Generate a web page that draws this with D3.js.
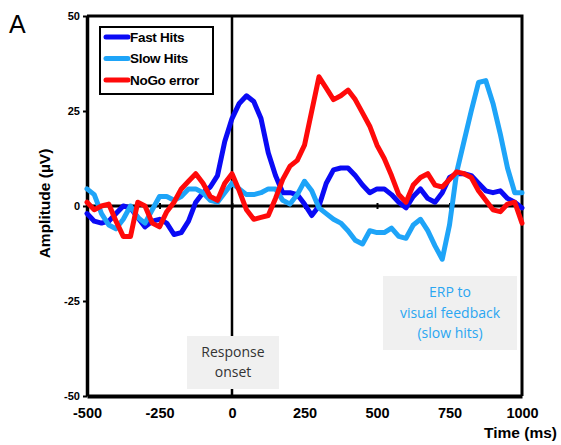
<!DOCTYPE html>
<html lang="en">
<head>
<meta charset="UTF-8">
<title>ERP amplitude</title>
<script src="https://d3js.org/d3.v7.min.js"></script>
<style>
    body { margin: 0; background: #fff; }
    svg { display: block; font-family: Arial, "Liberation Sans", sans-serif; }
    .axis text { font-weight: bold; fill: #000; }
    .legend text { font-weight: bold; font-size: 13.5px; letter-spacing: -0.3px; }
    .note { font-family: "Open Sans", "Noto Sans", sans-serif; font-size: 14px; }
</style>
</head>
<body>
<div id="chart"></div>
<script>
    // time grid (ms) shared by the three waveforms
    const times = d3.range(-500, 1001, 25);

    const fastHits = [
        -2, -4, -4.5, -4, -2, 0, -0.5, -3, -5.5, -4, -3.5, -4.5, -7.5, -7, -4, 1, 3.5, 5, 8, 17,
        23, 27, 29, 27.5, 23, 14, 8, 3.5, 3.5, 3, 0.5, -2.5, 0, 6, 9.5, 10, 10, 8, 5.5, 3.5,
        4.5, 4.5, 3, 1, -0.5, 2.5, 4.5, 2, 1, 3.5, 7.5, 8.5, 8.5, 8, 6, 4, 3.5, 4, 2, 1, -0.5
    ];
    const slowHits = [
        4.5, 3, -2, -5, -6, -3.5, 0, -3, -4.5, -1, 2.5, 2.5, 1.5, 2.5, 4.5, 4.5, 3.5, 1.5, 1, 3.5,
        6, 4.5, 3, 3, 3.5, 4.5, 4.5, 1.5, 0.5, 3, 6.5, 4, -0.5, -2, -3.5, -4.5, -6.5, -9, -10, -6.5,
        -7, -7, -5.8, -8, -8.5, -5, -3.5, -6.5, -10.5, -14, -5, 9, 17, 25, 32.5, 33, 27, 19, 10, 3.5, 3.5
    ];
    const nogoError = [
        1, -1, 0, 0.5, -4, -8, -8, 1, 0, -4.5, -5.5, -1.5, 1, 4.5, 6.5, 8.5, 6, 2.5, 1.5, 6,
        8.5, 4, -1, -3.5, -3, -2.5, 2, 7, 10.5, 12, 16, 25, 34, 31, 28, 29, 30.5, 28, 24.5, 21,
        16, 12.5, 8, 3, 1, 5.5, 7.5, 8.5, 5.5, 5, 7, 9, 8.5, 7.5, 4, 1.5, -1, -1.5, 0.5, 1, -4.5
    ];

    const seriesNames = ["Fast Hits", "Slow Hits", "NoGo error"];
    const seriesColors = ["#0a0af5", "#1ea4f8", "#ff0a0a"];
    const xTicks = [-500, -250, 0, 250, 500, 750, 1000];
    const yTicks = [-50, -25, 0, 25, 50];

    const width = 561, height = 445;
    const svg = d3.select("#chart").append("svg")
        .attr("width", width)
        .attr("height", height);

    const x = d3.scaleLinear().domain([-500, 1000]).range([87, 522]);
    const y = d3.scaleLinear().domain([-50, 50]).range([396, 16]);
    const plain = d => String(d);   // hyphen minus, no thousands comma

    // panel letter
    svg.append("text")
        .attr("x", 9).attr("y", 33)
        .attr("font-size", 25)
        .text("A");

    // frame: top and right borders
    svg.append("path")
        .attr("d", `M${x(-500)},${y(50)}H${x(1000)}V${y(-50)}`)
        .attr("fill", "none")
        .attr("stroke", "#000")
        .attr("stroke-width", 3);

    // y axis
    const yAxis = svg.append("g")
        .attr("class", "axis")
        .attr("transform", `translate(${x(-500)},0)`)
        .call(d3.axisLeft(y).tickValues(yTicks).tickFormat(plain).tickSize(4).tickPadding(3).tickSizeOuter(0));
    yAxis.select(".domain").attr("stroke-width", 3.5);
    yAxis.selectAll(".tick line").attr("stroke-width", 2);
    yAxis.selectAll("text").attr("font-size", 11);

    // x axis along the bottom
    const xAxis = svg.append("g")
        .attr("class", "axis")
        .attr("transform", `translate(0,${y(-50)})`)
        .call(d3.axisBottom(x).tickValues(xTicks).tickFormat(plain).tickSize(0).tickPadding(12).tickSizeOuter(0));
    xAxis.select(".domain").attr("stroke-width", 4);
    xAxis.selectAll("text").attr("font-size", 14.5);

    // zero line with small ticks
    const zeroAxis = svg.append("g")
        .attr("transform", `translate(0,${y(0) + 3})`)
        .call(d3.axisTop(x).tickValues(xTicks.slice(1, -1)).tickSize(6).tickFormat("").tickSizeOuter(0));
    zeroAxis.select(".domain").remove();
    zeroAxis.selectAll(".tick line").attr("stroke-width", 2);
    svg.append("line")
        .attr("x1", x(-500)).attr("x2", x(1000))
        .attr("y1", y(0)).attr("y2", y(0))
        .attr("stroke", "#000").attr("stroke-width", 3);

    // response onset line
    svg.append("line")
        .attr("x1", x(0)).attr("x2", x(0))
        .attr("y1", y(50)).attr("y2", y(-50))
        .attr("stroke", "#000").attr("stroke-width", 2.5);

    // waveforms
    const line = d3.line()
        .x((d, i) => x(times[i]))
        .y(d => y(d));

    [fastHits, slowHits, nogoError].forEach((vals, k) => {
        svg.append("path")
            .datum(vals)
            .attr("d", line)
            .attr("fill", "none")
            .attr("stroke", seriesColors[k])
            .attr("stroke-width", 5)
            .attr("stroke-linejoin", "round")
            .attr("stroke-linecap", "round");
    });

    // legend
    const legend = svg.append("g").attr("class", "legend");
    legend.append("rect")
        .attr("x", 100).attr("y", 27)
        .attr("width", 113).attr("height", 67)
        .attr("fill", "#fff")
        .attr("stroke", "#000")
        .attr("stroke-width", 2);
    seriesNames.forEach((name, k) => {
        const ly = 37 + k * 21.5;
        legend.append("line")
            .attr("x1", 106).attr("x2", 128)
            .attr("y1", ly).attr("y2", ly)
            .attr("stroke", seriesColors[k])
            .attr("stroke-width", 5)
            .attr("stroke-linecap", "round");
        legend.append("text")
            .attr("x", 130).attr("y", ly)
            .attr("dy", "0.36em")
            .text(name);
    });

    // annotation boxes
    function note(x0, y0, w, h, lines, color, lineGap) {
        svg.append("rect")
            .attr("x", x0).attr("y", y0)
            .attr("width", w).attr("height", h)
            .attr("fill", "#f0f0f0");
        const cy = y0 + h / 2 - (lines.length - 1) * lineGap / 2;
        lines.forEach((t, i) => {
            svg.append("text")
                .attr("class", "note")
                .attr("x", x0 + w / 2)
                .attr("y", cy + i * lineGap)
                .attr("dy", "0.35em")
                .attr("text-anchor", "middle")
                .attr("fill", color)
                .text(t);
        });
    }
    note(187, 336, 92, 53, ["Response", "onset"], "#333", 20);
    note(383, 276, 134, 74, ["ERP to", "visual feedback", "(slow hits)"], "#2aa6f2", 20.5);

    // axis titles
    svg.append("text")
        .attr("x", 557).attr("y", 438)
        .attr("text-anchor", "end")
        .attr("font-size", 15.5)
        .attr("font-weight", "bold")
        .text("Time (ms)");

    svg.append("text")
        .attr("transform", `translate(45,203.5) rotate(-90)`)
        .attr("dy", "0.35em")
        .attr("text-anchor", "middle")
        .attr("font-size", 15.5)
        .attr("font-weight", "bold")
        .text("Amplitude (µV)");
</script>
</body>
</html>
